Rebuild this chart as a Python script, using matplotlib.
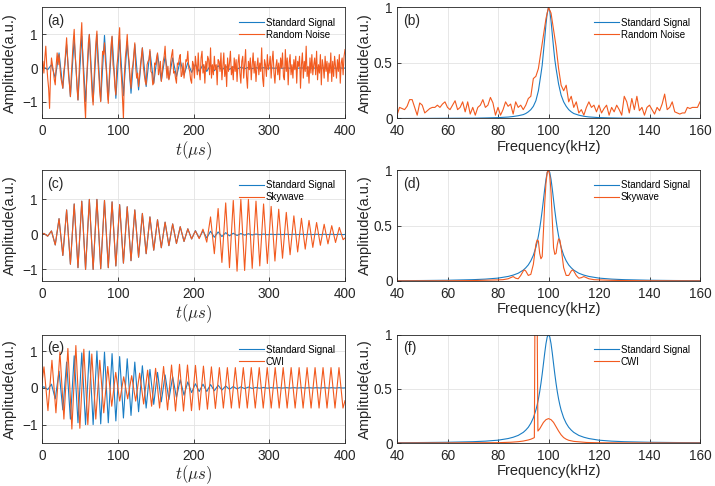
import numpy as np
import matplotlib
matplotlib.use("Agg")
import matplotlib.pyplot as plt

plt.rcParams['font.family'] = ['Liberation Sans', 'DejaVu Sans']
plt.rcParams['mathtext.fontset'] = 'cm'

BLUE = '#1A7DC4'
ORANGE = '#F25A1F'

# ---------------- data ----------------
# standard signal (signed half-cycle extremes), t = 0, 2.5, 7.5, ..., 397.5, 400 us
std_signal = [0.0,
    0.03, -0.05, 0.1, -0.3, 0.45, -0.6, 0.7, -0.85,
    0.87, -0.95, 0.95, -1.0, 1.0, -1.0, 1.0, -0.98,
    0.97, -0.95, 0.93, -0.9, 0.85, -0.82, 0.79, -0.75,
    0.7, -0.65, 0.6, -0.55, 0.5, -0.45, 0.42, -0.38,
    0.35, -0.32, 0.3, -0.26, 0.22, -0.2, 0.16, -0.13,
    0.11, -0.1, 0.1, -0.1, 0.09, -0.08, 0.07, -0.06,
    0.05, -0.04, 0.035, -0.03, 0.025, -0.02, 0.02, -0.015,
    0.01, -0.01, 0.01, -0.008, 0.005, -0.005, 0.005, -0.005,
    0.005, -0.005, 0.005, -0.005, 0.005, -0.005, 0.005, -0.005,
    0.005, -0.005, 0.005, -0.005, 0.005, -0.005, 0.005, -0.005,
    0.0]

# signal + random noise: t = 0..400 step 1.25 us
noisy_signal = [
    0.05, 0.2, -0.15, 0.3, 0.65, 0.1, -0.3, -0.6, -1.2, -0.2, 0.3, 0.1, -0.1, -0.35, -0.5, 0.1,
    0.45, 0.1, 0.4, 0.0, -0.3, -0.45, -0.6, -0.1, 0.1, 0.5, 0.9, 0.3, -0.2, -0.5, -0.85, -0.2,
    0.3, 0.8, 1.15, 0.4, 0.0, -0.6, -0.95, -0.3, 0.4, 0.9, 1.35, 0.3, -0.3, -1.0, -1.5, -0.4,
    0.2, 0.75, 1.0, 0.35, -0.2, -0.8, -1.1, -0.3, 0.3, 0.8, 1.1, 0.2, -0.2, -0.7, -1.0, -0.1,
    0.5, 0.4, 0.75, 0.2, -0.1, -0.7, -1.05, -0.3, 0.2, 0.7, 0.95, 0.1, -0.1, -0.55, -0.8, 0.05,
    0.3, 0.85, 1.2, 0.1, -0.3, -0.9, -1.5, -0.2, 0.3, 0.6, 1.0, 0.45, 0.2, -0.3, -0.6, -0.05,
    0.1, 0.4, 0.75, 0.0, -0.3, -0.15, -0.55, -0.25, 0.1, 0.35, 0.6, 0.05, -0.2, -0.4, -0.5, 0.1,
    0.2, 0.25, 0.55, -0.1, -0.15, -0.5, -0.45, 0.15, 0.1, 0.3, 0.45, -0.2, -0.05, 0.2, -0.4, -0.1,
    0.2, 0.35, 0.65, 0.1, -0.3, 0.05, -0.35, -0.2, 0.2, 0.4, 0.55, -0.15, -0.1, -0.3, -0.45, 0.15,
    0.1, 0.3, 0.4, -0.25, -0.2, 0.15, -0.3, -0.05, 0.25, 0.2, 0.5, 0.0, -0.1, -0.35, -0.45, 0.2,
    # 200 us onwards
    0.1, -0.3, 0.35, 0.05, -0.2, 0.45, -0.1, -0.35, 0.3, 0.5, -0.15, 0.1, -0.45, 0.2, -0.05, 0.35,
    0.25, -0.2, 0.6, -0.3, 0.1, -0.2, 0.35, -0.05, 0.1, -0.5, 0.25, 0.2, -0.1, 0.45, -0.35, 0.05,
    0.45, -0.25, 0.1, -0.55, 0.3, -0.1, 0.15, 0.5, -0.2, 0.05, -0.35, 0.3, -0.1, 0.25, -0.4, 0.15,
    0.4, -0.15, -0.45, 0.2, 0.35, -0.3, 0.1, 0.55, -0.25, -0.6, 0.2, -0.05, 0.3, -0.35, 0.1, 0.45,
    -0.15, 0.2, -0.4, 0.05, 0.3, -0.2, 0.15, -0.1, 0.6, -0.3, -0.55, 0.25, 0.1, -0.25, 0.4, -0.05,
    0.1, 0.35, -0.3, 0.2, 0.5, -0.15, -0.45, 0.05, 0.25, -0.2, 0.15, -0.35, 0.3, 0.0, 0.45, -0.25,
    -0.35, 0.55, -0.1, 0.3, -0.5, 0.15, 0.4, -0.2, 0.1, -0.3, 0.25, -0.05, 0.35, -0.45, 0.2, 0.05,
    0.35, -0.6, 0.1, 0.45, -0.3, 0.2, -0.1, 0.65, -0.25, 0.05, -0.45, 0.3, -0.15, 0.4, -0.2, 0.1,
    0.3, -0.2, 0.5, -0.35, 0.1, -0.15, 0.4, -0.5, 0.25, 0.05, -0.3, 0.35, -0.1, 0.2, -0.4, 0.15,
    -0.15, 0.45, -0.4, 0.2, -0.25, 0.35, 0.05, -0.3, 0.25, -0.1, 0.4, -0.45, 0.15, 0.3, -0.2, 0.35,
    0.55]

# skywave-contaminated signal, same time grid as std_signal
skywave_signal = [0.0,
    0.03, -0.05, 0.1, -0.3, 0.45, -0.6, 0.7, -0.85,
    0.87, -0.95, 0.95, -1.0, 1.0, -1.0, 1.0, -0.98,
    0.97, -0.95, 0.93, -0.9, 0.85, -0.82, 0.79, -0.75,
    0.7, -0.65, 0.6, -0.55, 0.5, -0.45, 0.42, -0.38,
    0.35, -0.32, 0.3, -0.26, 0.22, -0.2, 0.16, -0.13,
    0.1, -0.12, 0.15, -0.22, 0.5, -0.55, 0.74, -0.8,
    0.9, -0.95, 0.97, -1.05, 1.0, -1.03, 1.0, -0.97,
    0.95, -0.9, 0.87, -0.83, 0.8, -0.76, 0.72, -0.68,
    0.63, -0.58, 0.53, -0.5, 0.46, -0.42, 0.4, -0.37,
    0.34, -0.31, 0.29, -0.27, 0.25, -0.23, 0.2, -0.15,
    -0.1]

# CW-interference signal, t = 0, then every 5.263 us from 2.6, then 400
cwi_signal = [0.15,
    0.57, -0.62, 0.75, -0.68, 0.97, -0.85, 1.07, -1.12,
    1.15, -1.1, 1.05, -1.0, 0.92, -0.85, 0.75, -0.68,
    0.58, -0.5, 0.42, -0.36, 0.3, -0.3, 0.33, -0.36,
    0.4, -0.44, 0.48, -0.5, 0.53, -0.55, 0.58, -0.6,
    0.62, -0.63, 0.64, -0.63, 0.62, -0.62, 0.61, -0.6,
    0.59, -0.58, 0.57, -0.56, 0.55, -0.55, 0.55, -0.55,
    0.55, -0.55, 0.55, -0.55, 0.55, -0.55, 0.55, -0.55,
    0.55, -0.55, 0.55, -0.55, 0.55, -0.55, 0.55, -0.55,
    0.55, -0.55, 0.55, -0.55, 0.55, -0.55, 0.55, -0.55,
    0.55, -0.55, 0.55, -0.55,
    -0.35]

# ---- spectra ----
freq_b = [40, 60, 70, 75, 80, 84, 86, 88, 90, 91, 92, 93, 94, 95, 96, 97, 97.5, 98, 98.5, 99,
          99.5, 100, 100.5, 101, 101.5, 102, 102.5, 103, 104, 105, 106, 107, 108, 109, 110,
          112, 114, 116, 120, 125, 130, 140, 160]
std_spec_b = [0.0, 0.002, 0.003, 0.005, 0.008, 0.013, 0.018, 0.025, 0.035, 0.045, 0.06, 0.08, 0.11,
              0.16, 0.25, 0.4, 0.48, 0.6, 0.72, 0.85, 0.95, 1.0, 0.97, 0.88, 0.76, 0.64, 0.53, 0.45,
              0.31, 0.21, 0.15, 0.11, 0.08, 0.06, 0.045, 0.03, 0.02, 0.014, 0.008, 0.005, 0.003,
              0.002, 0.0]

freq_noise = list(range(40, 161))
noise_spec = [
    0.03, 0.1, 0.09, 0.08, 0.11, 0.17, 0.17, 0.1, 0.03, 0.14,   # 40-49
    0.12, 0.05, 0.07, 0.09, 0.1, 0.1, 0.12, 0.1, 0.13, 0.15,    # 50-59
    0.1, 0.08, 0.12, 0.16, 0.08, 0.1, 0.15, 0.06, 0.15, 0.04,   # 60-69
    0.1, 0.03, 0.1, 0.12, 0.17, 0.1, 0.12, 0.19, 0.14, 0.03,    # 70-79
    0.1, 0.03, 0.08, 0.15, 0.11, 0.13, 0.04, 0.15, 0.1, 0.12,   # 80-89
    0.08, 0.12, 0.18, 0.2, 0.36, 0.38, 0.45, 0.6, 0.75, 0.9,    # 90-99
    1.0, 0.95, 0.8, 0.65, 0.45, 0.3, 0.25, 0.3, 0.15, 0.2,      # 100-109
    0.1, 0.15, 0.05, 0.08, 0.03, 0.1, 0.15, 0.1, 0.12, 0.06,    # 110-119
    0.12, 0.05, 0.09, 0.12, 0.03, 0.1, 0.06, 0.12, 0.08, 0.03,  # 120-129
    0.2, 0.15, 0.05, 0.18, 0.08, 0.2, 0.07, 0.1, 0.03, 0.1,     # 130-139
    0.12, 0.08, 0.04, 0.1, 0.07, 0.13, 0.22, 0.08, 0.1, 0.15,   # 140-149
    0.06, 0.05, 0.04, 0.05, 0.05, 0.1, 0.09, 0.1, 0.1, 0.1,     # 150-159
    0.15]                                                       # 160

freq_std = [40, 50, 60, 70, 75, 80, 84, 86, 88, 90, 91, 92, 93, 94, 95, 95.5, 96, 96.5, 97, 97.5,
            98, 98.5, 99, 99.5, 100, 100.5, 101, 101.5, 102, 102.5, 103, 103.5, 104, 104.5, 105,
            106, 107, 108, 109, 110, 112, 114, 116, 120, 125, 130, 140, 150, 160]
std_spec = [0.003, 0.0043, 0.0068, 0.012, 0.017, 0.026, 0.041, 0.053, 0.070, 0.098, 0.119, 0.145,
            0.182, 0.232, 0.303, 0.350, 0.405, 0.471, 0.548, 0.635, 0.731, 0.829, 0.916, 0.978,
            1.0, 0.978, 0.916, 0.829, 0.731, 0.635, 0.548, 0.471, 0.405, 0.350, 0.303, 0.232,
            0.182, 0.145, 0.119, 0.098, 0.070, 0.053, 0.041, 0.026, 0.017, 0.012, 0.0068,
            0.0043, 0.003]

freq_sky = [40, 60, 70, 80, 82, 84, 85, 86, 87, 88, 89, 90, 90.5, 91, 92, 93, 94, 95, 95.5, 96,
            96.5, 97, 97.5, 98, 98.5, 99, 99.5, 100, 100.5, 101, 101.5, 102, 102.5, 103, 103.5,
            104, 104.5, 105, 106, 107, 108, 109, 109.5, 110, 111, 112, 113, 114, 115, 116, 118,
            120, 125, 130, 140, 160]
sky_spec = [0.001, 0.002, 0.004, 0.01, 0.012, 0.02, 0.03, 0.04, 0.025, 0.02, 0.05, 0.09, 0.1, 0.09,
            0.05, 0.06, 0.15, 0.33, 0.37, 0.36, 0.25, 0.2, 0.22, 0.45, 0.7, 0.88, 0.98, 1.0, 0.95,
            0.8, 0.55, 0.3, 0.24, 0.25, 0.33, 0.38, 0.37, 0.3, 0.12, 0.05, 0.05, 0.09, 0.1, 0.09,
            0.05, 0.025, 0.03, 0.04, 0.03, 0.02, 0.012, 0.01, 0.006, 0.004, 0.002, 0.001]

freq_cwi = [40, 60, 70, 80, 85, 88, 90, 92, 93, 94, 94.4, 95.0, 95.8, 96.5, 97, 98, 99, 100, 101,
            102, 103, 104, 105, 106, 107, 108, 110, 115, 120, 130, 160]
cwi_spec = [0.0, 0.001, 0.002, 0.003, 0.007, 0.012, 0.018, 0.028, 0.035, 0.045, 0.05, 3.0, 0.11,
            0.13, 0.15, 0.19, 0.215, 0.225, 0.215, 0.19, 0.15, 0.11, 0.075, 0.05, 0.035, 0.025,
            0.015, 0.005, 0.002, 0.001, 0.0]

t_std = np.r_[0, np.arange(2.5, 400, 5), 400]
t_noise = np.linspace(0, 400, len(noisy_signal))
t_cwi = np.r_[0, 2.6 + 5.263 * np.arange(len(cwi_signal) - 2), 400]

# ---------------- figure ----------------
W, H = 715, 486
fig = plt.figure(figsize=(W / 100, H / 100), dpi=100)

def ax_at(x0, y0, x1, y1):
    return fig.add_axes([x0 / W, 1 - y1 / H, (x1 - x0) / W, (y1 - y0) / H])

rows = [(7.5, 118.5), (170, 281), (334.5, 443)]
lx = (42, 345)
rx = (397, 700)

EDGE = '#262626'
LW = 0.8

def style(ax):
    ax.grid(True, color='#e3e3e3', lw=0.6)
    ax.set_axisbelow(True)
    for s in ax.spines.values():
        s.set_color(EDGE)
        s.set_linewidth(0.6)
    ax.tick_params(direction='in', length=3, width=0.6, color=EDGE, labelcolor=EDGE,
                   labelsize=9.8, top=False, right=False)
    ax.tick_params(axis='x', pad=4)
    ax.tick_params(axis='y', pad=3)

def legend(ax, labels):
    ax.legend(labels, loc='upper right', frameon=False, fontsize=7, handlelength=2.6,
              handletextpad=0.2, labelspacing=0.2, borderaxespad=0.75, borderpad=0.3)

time_panels = [
    ('(a)', noisy_signal, t_noise, 'Random Noise', (-1.5, 1.8)),
    ('(c)', skywave_signal, t_std, 'Skywave', (-1.33, 1.84)),
    ('(e)', cwi_signal, t_cwi, 'CWI', (-1.5, 1.45)),
]
freq_panels = [
    ('(b)', freq_b, std_spec_b, freq_noise, noise_spec, 'Random Noise'),
    ('(d)', freq_std, std_spec, freq_sky, sky_spec, 'Skywave'),
    ('(f)', freq_std, std_spec, freq_cwi, cwi_spec, 'CWI'),
]

for (y0, y1), tp, fp in zip(rows, time_panels, freq_panels):
    # time domain
    ax = ax_at(lx[0], y0, lx[1], y1)
    lab, sig, tt, name, yl = tp
    ax.plot(t_std, std_signal, color=BLUE, lw=LW)
    ax.plot(tt, sig, color=ORANGE, lw=LW)
    ax.set_xlim(0, 400)
    ax.set_ylim(*yl)
    ax.set_xticks([0, 100, 200, 300, 400])
    ax.set_yticks([-1, 0, 1])
    style(ax)
    ax.set_ylabel('Amplitude(a.u.)', fontsize=10.5, color=EDGE)
    ax.yaxis.set_label_coords(-0.083, 0.5)
    ax.set_xlabel(r'$t(\mu s)$', fontsize=12, color=EDGE)
    ax.xaxis.set_label_coords(0.5, -0.19)
    ax.text(0.017, 0.94, lab, transform=ax.transAxes, ha='left', va='top', fontsize=10,
            color=EDGE)
    legend(ax, ['Standard Signal', name])

    # frequency domain
    ax = ax_at(rx[0], y0, rx[1], y1)
    lab, fs, ss, fo, so, name = fp
    ax.plot(fs, ss, color=BLUE, lw=LW)
    ax.plot(fo, so, color=ORANGE, lw=LW)
    ax.set_xlim(40, 160)
    ax.set_ylim(0, 1)
    ax.set_xticks(np.arange(40, 161, 20))
    ax.set_yticks([0, 0.5, 1])
    ax.set_yticklabels(['0', '0.5', '1'])
    style(ax)
    ax.set_ylabel('Amplitude(a.u.)', fontsize=10.5, color=EDGE)
    ax.yaxis.set_label_coords(-0.083, 0.5)
    ax.set_xlabel('Frequency(kHz)', fontsize=10.5, color=EDGE)
    ax.xaxis.set_label_coords(0.5, -0.19)
    ax.text(0.02, 0.94, lab, transform=ax.transAxes, ha='left', va='top', fontsize=10,
            color=EDGE)
    legend(ax, ['Standard Signal', name])

fig.savefig('out.png', dpi=100)
